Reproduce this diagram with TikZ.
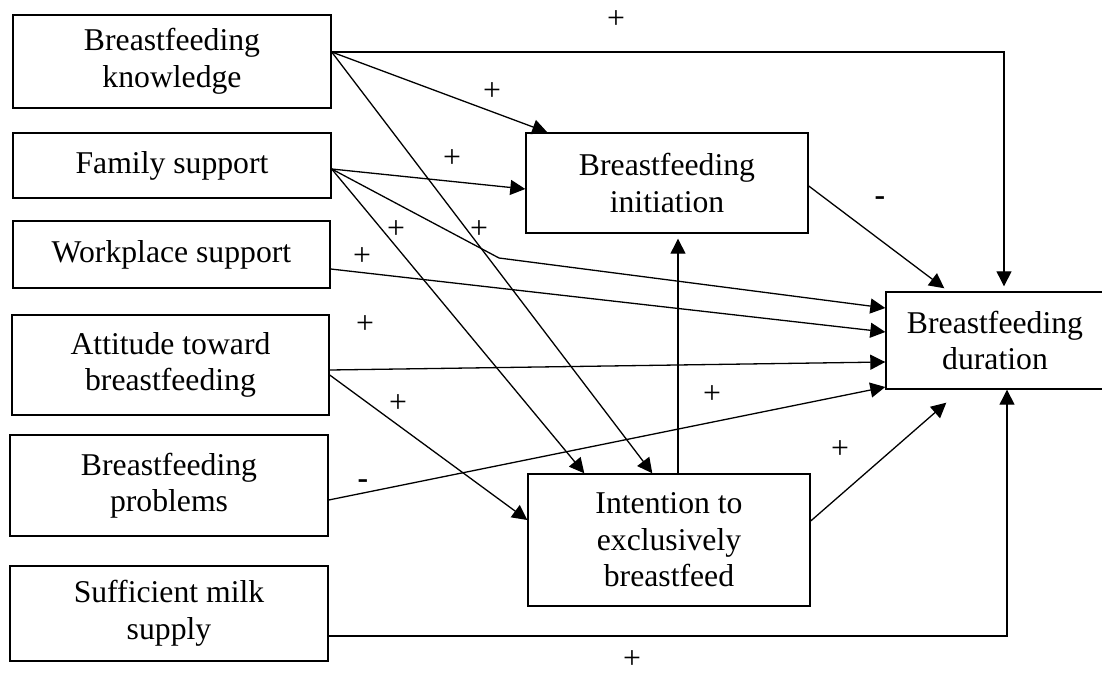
\documentclass[tikz,border=0pt]{standalone}
\usepackage{fontspec}
\setmainfont{Liberation Serif}
\usetikzlibrary{arrows.meta,calc}

\tikzset{
  box/.style={draw, line width=1.4pt, inner sep=0pt, align=center,
    font=\fontsize{31.7}{36.5}\selectfont},
  con/.style={line width=1.3pt, -{Triangle[length=15pt,width=15pt]}},
  sign/.style={font=\fontsize{31.7}{36.5}\selectfont, inner sep=0pt},
}

\begin{document}
\begin{tikzpicture}[x=1pt,y=-1pt]
	\useasboundingbox (0,0) rectangle (1102,677);
	% factors on the left
	\node[box, minimum width=318pt, minimum height=93pt] (know) at (172,61.5) {Breastfeeding\\knowledge};
	\node[box, minimum width=318pt, minimum height=65pt] (family) at (172,165.5) {Family support};
	\node[box, minimum width=317pt, minimum height=67pt] (work) at (171.5,254.5) {Workplace support};
	\node[box, minimum width=317pt, minimum height=100pt] (attit) at (170.5,365) {Attitude toward\\breastfeeding};
	\node[box, minimum width=318pt, minimum height=101pt] (probl) at (169,485.5) {Breastfeeding\\problems};
	\node[box, minimum width=318pt, minimum height=95pt] (milk) at (169,613.5) {Sufficient milk\\supply};
	% outcomes
	\node[box, minimum width=282pt, minimum height=100pt] (init) at (667,183) {Breastfeeding\\initiation};
	\node[box, minimum width=282pt, minimum height=132pt] (intent) at (669,540) {Intention to\\exclusively\\breastfeed};
	\node[box, minimum width=218pt, minimum height=97pt] (dur) at (995,340.5) {Breastfeeding\\duration};
	\coordinate (bend) at (499,258);

	% knowledge
	\draw[con, shorten >=5pt] ([yshift=9.5pt]know.east) -| ([xshift=9pt]dur.north);
	\draw[con] ([yshift=9.5pt]know.east) -- ([xshift=22pt]init.north west);
	\draw[con] ([yshift=9.5pt]know.east) -- ([xshift=125pt]intent.north west);
	% family support
	\draw[con] ([yshift=-3.5pt]family.east) -- ([yshift=-6pt]init.west);
	\draw[con] ([yshift=-3.5pt]family.east) -- ([xshift=57pt]intent.north west);
	\draw[con] ([yshift=-3.5pt]family.east) -- (bend) -- ([yshift=32.5pt]dur.west);
	% workplace, attitude, problems
	\draw[con] ([yshift=-14.5pt]work.east) -- ([yshift=8.5pt]dur.west);
	\draw[con] ([yshift=-5pt]attit.east) -- ([yshift=-21.5pt]dur.west);
	\draw[con] ([yshift=-10pt]attit.east) -- ([yshift=20pt]intent.west);
	\draw[con] ([yshift=-14.5pt]probl.east) -- ([yshift=-46.5pt]dur.west);
	% milk supply
	\draw[con] ([yshift=-22.5pt]milk.east) -| ([xshift=12pt]dur.south);
	% between outcomes
	\draw[con, shorten >=5pt] ([xshift=9pt]intent.north) -- ([xshift=9pt]intent.north |- init.south);
	\draw[con, shorten >=5pt] ([yshift=-3pt]init.east) -- ([xshift=63pt]dur.north west);
	\draw[con] ([yshift=19pt]intent.east) -- ([xshift=61pt,yshift=-13pt]dur.south west);

	% signs
	\node[sign] (p1) at (616,20) {+};
	\node[sign] (p2) at (492,92) {+};
	\node[sign] (p3) at (452,159) {+};
	\node[sign] (p4) at (396,230) {+};
	\node[sign] (p5) at (479,230) {+};
	\node[sign] (p6) at (362,257) {+};
	\node[sign] (p7) at (365,325) {+};
	\node[sign] (p8) at (398,404) {+};
	\node[sign] (p9) at (712,395) {+};
	\node[sign] (p10) at (840,450) {+};
	\node[sign] (p11) at (632,660) {+};
	\node[sign, font=\fontsize{31.7}{36.5}\selectfont\bfseries] (m1) at (880,201) {-};
	\node[sign, font=\fontsize{31.7}{36.5}\selectfont\bfseries] (m2) at (363,484) {-};
\end{tikzpicture}
\end{document}
